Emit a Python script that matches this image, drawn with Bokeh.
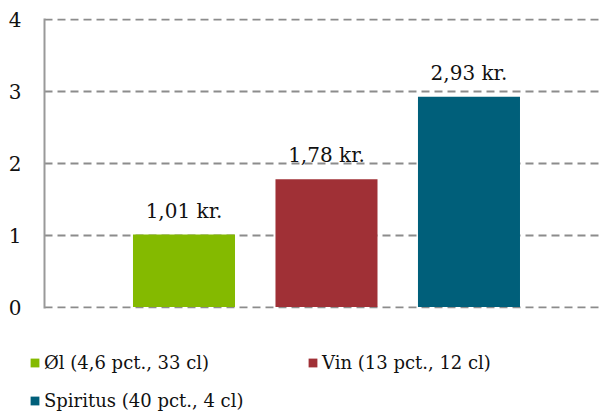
from bokeh.plotting import figure
from bokeh.models import ColumnDataSource, Legend, LegendItem, Range1d, FixedTicker
from bokeh.layouts import column
from bokeh.embed import file_html
from bokeh.resources import INLINE

labels = ["Øl (4,6 pct., 33 cl)", "Vin (13 pct., 12 cl)", "Spiritus (40 pct., 4 cl)"]
values = [1.01, 1.78, 2.93]
value_text = ["1,01 kr.", "1,78 kr.", "2,93 kr."]
colors = ["#84BA00", "#A03036", "#005F7A"]
positions = [1, 2, 3]
yticks = [0, 1, 2, 3, 4]

FONT = "DejaVu Serif"

p = figure(width=606, height=320, output_backend="svg", toolbar_location=None,
           x_range=Range1d(0.021, 3.923), y_range=Range1d(-0.02, 4.02),
           min_border_left=44, min_border_right=6, min_border_top=18, min_border_bottom=12)
p.frame_align = False
p.outline_line_color = None
p.xaxis.visible = False
p.xgrid.visible = False

p.yaxis.ticker = FixedTicker(ticks=yticks)
p.yaxis.major_tick_line_color = None
p.yaxis.minor_tick_line_color = None
p.yaxis.axis_line_color = "#999999"
p.yaxis.axis_line_width = 2
p.yaxis.major_label_text_font = FONT
p.yaxis.major_label_text_font_size = "20px"
p.yaxis.major_label_text_color = "#111111"
p.yaxis.major_label_standoff = 17

p.ygrid.grid_line_color = "#8c8c8c"
p.ygrid.grid_line_width = 2
p.ygrid.grid_line_dash = "8 5"

for i in range(3):
    src = ColumnDataSource(dict(x=[positions[i]], top=[values[i]], t=[value_text[i]]))
    p.vbar(x="x", top="top", width=0.716, bottom=0, source=src,
           fill_color=colors[i], line_color=None)
    p.text(x="x", y="top", text="t", source=src, text_align="center", text_baseline="bottom",
           y_offset=-12, text_font_size="20px", text_color="#111111", text_font={"value": FONT})

# legend panel
lg = figure(width=606, height=95, output_backend="svg", toolbar_location=None,
            x_range=Range1d(0, 1), y_range=Range1d(0, 1),
            min_border_left=0, min_border_right=0, min_border_top=0, min_border_bottom=0,
            x_axis_location=None, y_axis_location=None)
lg.frame_align = False
lg.outline_line_color = None
lg.grid.visible = False
leg_renderers = []
for i in range(3):
    r = lg.vbar(x=[-5], top=[-5], bottom=[-6], width=0.5, fill_color=colors[i], line_color=None)
    leg_renderers.append(r)

legend = Legend(items=[LegendItem(label=labels[i], renderers=[leg_renderers[i]]) for i in range(3)],
                location=(29, 4), orientation="horizontal", ncols=2,
                label_text_font=FONT, label_text_font_size="18px", label_text_color="#111111",
                glyph_width=11, glyph_height=11, label_standoff=4, label_width=247,
                label_height=22, spacing=16, padding=0, margin=0,
                border_line_color=None, background_fill_alpha=0)
lg.add_layout(legend, "center")

layout = column(p, lg, spacing=0)
open("out.html", "w").write(file_html(layout, INLINE))
